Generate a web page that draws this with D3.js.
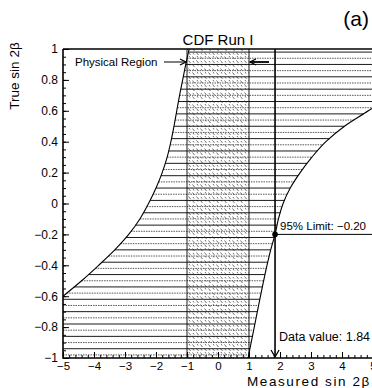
<!DOCTYPE html>
<html><head><meta charset="utf-8">
<script src="https://cdn.jsdelivr.net/npm/d3@7"></script>
<style>
html,body{margin:0;padding:0;background:#fff;}
svg{display:block;font-family:"Liberation Sans",Arial,sans-serif;}
</style></head>
<body>
<svg id="c" width="372" height="388"></svg>
<script>
// ---- data ----
const xTicks = [-5,-4,-3,-2,-1,0,1,2,3,4,5];
const yTicks = [-1,-0.8,-0.6,-0.4,-0.2,0,0.2,0.4,0.6,0.8,1];
// left edge of acceptance band (measured value, for a given true value)
const leftTrue = [-0.6,-0.5,-0.4,-0.3,-0.2,-0.1,0,0.1,0.2,0.3,0.4,0.5,0.6,0.7,0.8,0.9,1.0];
const leftMeas = [-5.0,-4.4,-3.85,-3.33,-2.88,-2.52,-2.24,-2.0,-1.8,-1.64,-1.52,-1.42,-1.33,-1.24,-1.14,-1.04,-0.93];
// right edge of acceptance band
const rightTrue = [-1,-0.8,-0.6,-0.4,-0.3,-0.2,-0.1,0,0.1,0.2,0.3,0.4,0.5,0.6,0.62];
const rightMeas = [0.97,1.17,1.37,1.58,1.70,1.84,1.95,2.1,2.33,2.65,3.03,3.48,4.08,4.85,5.0];
// true values of the horizontal acceptance intervals
const bandLevels = [-0.98,-0.94,-0.90,-0.86,-0.82,-0.78,-0.74,-0.70,-0.66,-0.62,-0.58,-0.54,-0.50,-0.46,-0.42,-0.38,-0.34,-0.30,-0.26,-0.22,-0.18,-0.14,-0.10,-0.06,-0.02,0.02,0.06,0.10,0.14,0.18,0.22,0.26,0.30,0.34,0.38,0.42,0.46,0.50,0.54,0.58,0.62,0.66,0.70,0.74,0.78,0.82,0.86,0.90,0.94,0.98];
const physicalRegion = [-1, 1];
const dataValue = 1.84;
const limitValue = -0.20;

// ---- chart ----
const svg = d3.select("#c");
const x = d3.scaleLinear().domain([-5,5]).range([63,373]);
const y = d3.scaleLinear().domain([-1,1]).range([358,49]);

const defs = svg.append("defs");
defs.append("clipPath").attr("id","clip").append("rect")
  .attr("x",x(-5)).attr("y",y(1)).attr("width",x(5)-x(-5)).attr("height",y(-1)-y(1));
const pat = defs.append("pattern").attr("id","hatch").attr("patternUnits","userSpaceOnUse")
  .attr("width",8).attr("height",8);
pat.append("path").attr("d","M0.5,0.5 L2.5,3 M4.5,4.5 L6.5,7 M5,0 L6,1.5 M1,5 L2,6.5")
  .attr("stroke","#333").attr("stroke-width",0.7).attr("fill","none");

const g = svg.append("g").attr("clip-path","url(#clip)");

function interp(ys, xs, v){
  if (v <= ys[0]) return xs[0];
  if (v >= ys[ys.length-1]) return xs[xs.length-1];
  for (let i=1;i<ys.length;i++){
    if (v <= ys[i]) { const t=(v-ys[i-1])/(ys[i]-ys[i-1]); return xs[i-1]+t*(xs[i]-xs[i-1]); }
  }
}
function leftAt(v){ return v < leftTrue[0] ? -5 : interp(leftTrue,leftMeas,v); }
function rightAt(v){ return v > rightTrue[rightTrue.length-1] ? 5 : interp(rightTrue,rightMeas,v); }

// hatched physical region
g.append("rect").attr("x",x(physicalRegion[0])).attr("y",y(1))
  .attr("width",x(physicalRegion[1])-x(physicalRegion[0])).attr("height",y(-1)-y(1))
  .attr("fill","url(#hatch)");

// horizontal acceptance intervals
g.selectAll("line.band").data(bandLevels).enter().append("line")
  .attr("x1",d=>x(leftAt(d))).attr("x2",d=>x(rightAt(d)))
  .attr("y1",d=>y(d)).attr("y2",d=>y(d))
  .attr("stroke",(d,i)=>i%2? "#000":"#444")
  .attr("stroke-width",0.9)
  .attr("stroke-dasharray",(d,i)=>i%2? null:"1.5,1");

// curves
const lineGen = d3.line().x(d=>x(d[0])).y(d=>y(d[1])).curve(d3.curveMonotoneY);
g.append("path").datum(leftMeas.map((m,i)=>[m,leftTrue[i]])).attr("d",lineGen)
  .attr("fill","none").attr("stroke","#000").attr("stroke-width",1.1);
g.append("path").datum(rightMeas.map((m,i)=>[m,rightTrue[i]])).attr("d",lineGen)
  .attr("fill","none").attr("stroke","#000").attr("stroke-width",1.1);

// physical region borders
physicalRegion.forEach(v=>{
  g.append("line").attr("x1",x(v)).attr("x2",x(v)).attr("y1",y(1)).attr("y2",y(-1))
    .attr("stroke","#000").attr("stroke-width",0.9);
});

// data value line
svg.append("line").attr("x1",x(dataValue)).attr("x2",x(dataValue)).attr("y1",y(1)).attr("y2",y(-1)-1)
  .attr("stroke","#000").attr("stroke-width",1.6);
svg.append("path").attr("d",`M${x(dataValue)-4},${y(-1)-8} L${x(dataValue)},${y(-1)-1} L${x(dataValue)+4},${y(-1)-8}`)
  .attr("fill","none").attr("stroke","#000").attr("stroke-width",1.3);
// 95% limit line
svg.append("line").attr("x1",x(dataValue)).attr("x2",372).attr("y1",y(limitValue)).attr("y2",y(limitValue))
  .attr("stroke","#000").attr("stroke-width",1);
svg.append("circle").attr("cx",x(dataValue)).attr("cy",y(limitValue)).attr("r",2.8).attr("fill","#000");

// frame
svg.append("path").attr("d",`M${x(-5)},${y(1)} L${x(5)},${y(1)} M${x(-5)},${y(1)} L${x(-5)},${y(-1)} L${x(5)},${y(-1)}`)
  .attr("fill","none").attr("stroke","#000").attr("stroke-width",1.6);

// axes
const xAxis = d3.axisBottom(x).tickValues(xTicks).tickSize(-6).tickPadding(4).tickFormat(d=>d<0?"\u2212"+Math.abs(d):d);
const xa = svg.append("g").attr("transform",`translate(0,${y(-1)})`).call(xAxis);
const xMinor = d3.axisBottom(x).ticks(50).tickSize(-3).tickFormat("");
svg.append("g").attr("transform",`translate(0,${y(-1)})`).call(xMinor).select(".domain").remove();
const yAxis = d3.axisLeft(y).tickValues(yTicks).tickSize(-6).tickPadding(5)
  .tickFormat(d=>{ if(d===0) return "0"; const s=Math.abs(d)===1?"1":Math.abs(d).toFixed(1); return d<0?"\u2212"+s:s;});
const ya = svg.append("g").attr("transform",`translate(${x(-5)},0)`).call(yAxis);
const yMinor = d3.axisLeft(y).ticks(40).tickSize(-3).tickFormat("");
svg.append("g").attr("transform",`translate(${x(-5)},0)`).call(yMinor).select(".domain").remove();
[xa,ya].forEach(a=>{ a.select(".domain").remove(); a.selectAll("text").attr("font-size",12).attr("font-family","Liberation Sans, Arial, sans-serif").attr("fill","#000"); });
xa.selectAll("text").attr("font-size",11.5);
svg.selectAll(".tick line").attr("stroke","#000");

// texts
svg.append("text").attr("x",218).attr("y",45).attr("text-anchor","middle").attr("font-size",15).text("CDF  Run I");
svg.append("text").attr("x",369).attr("y",26).attr("text-anchor","end").attr("font-size",21).text("(a)");
svg.append("text").attr("transform","translate(19,76) rotate(-90)").attr("text-anchor","middle").attr("font-size",13.5).text("True sin 2\u03B2");
svg.append("text").attr("x",371).attr("y",386).attr("text-anchor","end").attr("font-size",13.5).attr("letter-spacing",1.6).text("Measured sin 2\u03B2");
svg.append("text").attr("x",75).attr("y",66).attr("font-size",11.5).text("Physical Region");
svg.append("line").attr("x1",164).attr("x2",x(-1)-1).attr("y1",62).attr("y2",62).attr("stroke","#000").attr("stroke-width",1);
svg.append("path").attr("d",`M${x(-1)-7},59 L${x(-1)-1},62 L${x(-1)-7},65`).attr("fill","none").attr("stroke","#000").attr("stroke-width",1.2);
svg.append("line").attr("x1",269).attr("x2",x(1)+1).attr("y1",62).attr("y2",62).attr("stroke","#000").attr("stroke-width",1.8);
svg.append("path").attr("d",`M${x(1)+7},59 L${x(1)+1},62 L${x(1)+7},65`).attr("fill","none").attr("stroke","#000").attr("stroke-width",1.3);
svg.append("text").attr("x",x(dataValue)+5).attr("y",y(limitValue)-4).attr("font-size",11.5).text("95% Limit: \u22120.20");
svg.append("text").attr("x",x(dataValue)+4).attr("y",341).attr("font-size",12.5).text("Data value: 1.84");
</script>
</body></html>
